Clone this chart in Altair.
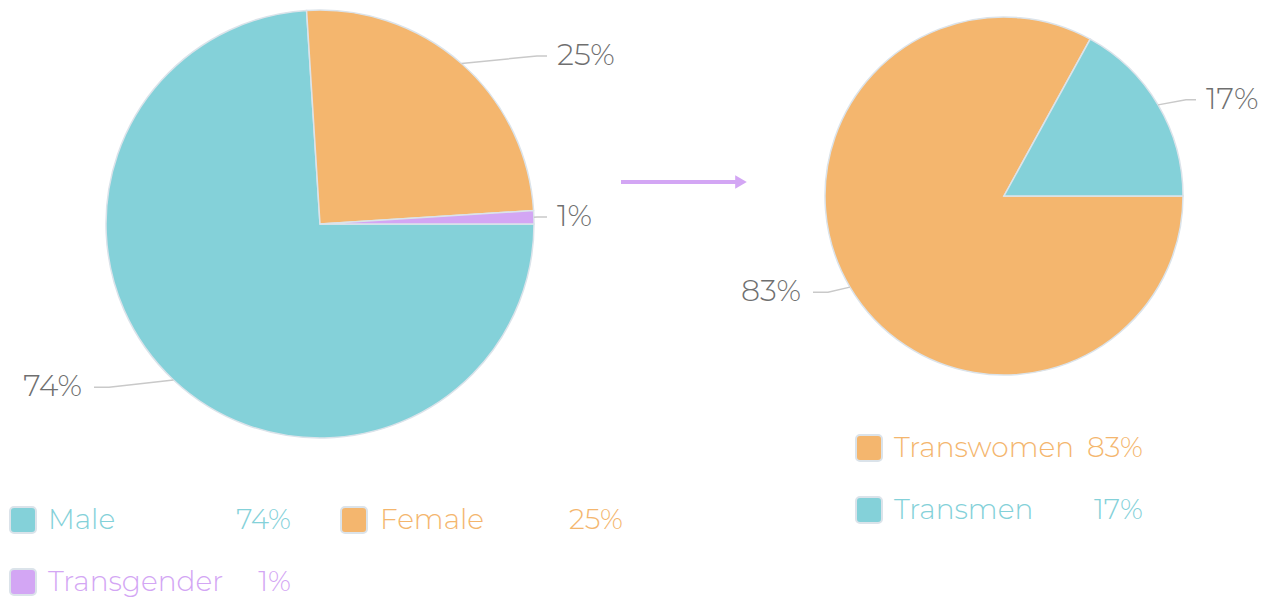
import math
import altair as alt
import pandas as pd

# ---------------- data ----------------
left_categories = ["Male", "Female", "Transgender"]
left_values = [74, 25, 1]
right_categories = ["Transwomen", "Transmen"]
right_values = [83, 17]

all_categories = ["Male", "Female", "Transgender", "Transwomen", "Transmen"]
category_colors = ["#84D1D9", "#F4B66E", "#D3A6F4", "#F4B66E", "#84D1D9"]

# ---------------- layout (page pixels) ----------------
OFF = 8  # page margin
LEFT_PIE = dict(cx=320, cy=224, r=214)
RIGHT_PIE = dict(cx=1004, cy=196, r=179)
START_DEG = 90
FONT = "Montserrat, DejaVu Sans, sans-serif"
LABEL_SIZE = 30
LEGEND_SIZE = 28
LABEL_GRAY = "#6f6f6f"
LINE_GRAY = "#c9c9c9"
BORDER = "#dbe3ea"

color_scale = alt.Scale(domain=all_categories, range=category_colors)


def pie_frames(cats, vals, pie):
    total = float(sum(vals))
    cum = 0.0
    arcs, lines, labels = [], [], []
    for i, (c, v) in enumerate(zip(cats, vals)):
        a0 = START_DEG + cum / total * 360
        cum += v
        a1 = START_DEG + cum / total * 360
        m = math.radians((a0 + a1) / 2)
        s, co = math.sin(m), math.cos(m)
        ex = pie["cx"] + pie["r"] * s
        ey = pie["cy"] - pie["r"] * co
        ely = pie["cy"] - (pie["r"] + 10) * co
        if s >= 0:
            elx = pie["cx"] + pie["r"] + 3
            endx = elx + 10
            tx = endx + 10
            side = "right"
        else:
            elx = pie["cx"] - pie["r"] + 3
            endx = elx - 15
            tx = endx - 12
            side = "left"
        arcs.append(dict(cat=c, val=v, idx=i))
        for k, (px, py) in enumerate([(ex, ey), (elx, ely), (endx, ely)]):
            lines.append(dict(cat=c, k=k, x=px - OFF, y=py - OFF))
        labels.append(dict(cat=c, text=f"{v}%", x=tx - OFF, y=ely - OFF, side=side))
    return pd.DataFrame(arcs), pd.DataFrame(lines), pd.DataFrame(labels)


def pie_layers(cats, vals, pie):
    arcs, lines, labels = pie_frames(cats, vals, pie)
    arc = alt.Chart(arcs).mark_arc(outerRadius=pie["r"], stroke=BORDER, strokeWidth=1.5).encode(
        theta=alt.Theta("val:Q", stack=True,
                        scale=alt.Scale(range=[math.radians(START_DEG), math.radians(START_DEG) + 2 * math.pi])),
        color=alt.Color("cat:N", scale=color_scale, legend=None),
        order=alt.Order("idx:Q"),
        x=alt.value(pie["cx"] - OFF),
        y=alt.value(pie["cy"] - OFF),
    )
    line = alt.Chart(lines).mark_line(color=LINE_GRAY, strokeWidth=1.5).encode(
        x=alt.X("x:Q", scale=None, axis=None),
        y=alt.Y("y:Q", scale=None, axis=None),
        detail="cat:N",
        order="k:Q",
    )
    out = [arc, line]
    for side in ["left", "right"]:
        sub = labels[labels.side == side]
        if len(sub) == 0:
            continue
        out.append(alt.Chart(sub).mark_text(
            font=FONT, fontSize=LABEL_SIZE, fontWeight=300, color=LABEL_GRAY,
            align="left" if side == "right" else "right", baseline="middle",
        ).encode(
            x=alt.X("x:Q", scale=None, axis=None),
            y=alt.Y("y:Q", scale=None, axis=None),
            text="text:N",
        ))
    return out


# legends
def legend_frame(cats, vals, slots):
    rows = []
    for c, v, (sx, tx, px, cy) in zip(cats, vals, slots):
        rows.append(dict(cat=c, pct=f"{v}%", x0=sx - OFF, x1=sx + 26 - OFF,
                         y0=cy - 13 - OFF, y1=cy + 13 - OFF,
                         tx=tx - OFF, px=px - OFF, ty=cy + 1 - OFF))
    return pd.DataFrame(rows)


# slot = (square left x, text x, pct right x, center y)
left_slots = [(10, 48, 291, 520), (341, 380, 623, 520), (10, 48, 291, 582)]
right_slots = [(856, 894, 1143, 448), (856, 894, 1143, 510)]
leg = pd.concat([legend_frame(left_categories, left_values, left_slots),
                 legend_frame(right_categories, right_values, right_slots)])

leg_rect = alt.Chart(leg).mark_rect(cornerRadius=4, stroke=BORDER, strokeWidth=2).encode(
    x=alt.X("x0:Q", scale=None, axis=None), x2="x1:Q",
    y=alt.Y("y0:Q", scale=None, axis=None), y2="y1:Q",
    color=alt.Color("cat:N", scale=color_scale, legend=None),
)
leg_name = alt.Chart(leg).mark_text(font=FONT, fontSize=LEGEND_SIZE, fontWeight=300,
                                    align="left", baseline="middle").encode(
    x=alt.X("tx:Q", scale=None, axis=None), y=alt.Y("ty:Q", scale=None, axis=None),
    text="cat:N", color=alt.Color("cat:N", scale=color_scale, legend=None),
)
leg_pct = alt.Chart(leg).mark_text(font=FONT, fontSize=LEGEND_SIZE, fontWeight=300,
                                   align="right", baseline="middle").encode(
    x=alt.X("px:Q", scale=None, axis=None), y=alt.Y("ty:Q", scale=None, axis=None),
    text="pct:N", color=alt.Color("cat:N", scale=color_scale, legend=None),
)

# arrow decoration
arrow_df = pd.DataFrame([dict(a=1)])
arrow_line = alt.Chart(arrow_df).mark_rule(color="#D3A6F4", strokeWidth=4).encode(
    x=alt.value(621 - OFF), x2=alt.value(739 - OFF), y=alt.value(182 - OFF))
arrow_head = alt.Chart(arrow_df).mark_point(shape="triangle-right", filled=True, opacity=1,
                                            color="#D3A6F4", size=180).encode(
    x=alt.value(741 - OFF), y=alt.value(182 - OFF))

layers = (pie_layers(left_categories, left_values, LEFT_PIE)
          + pie_layers(right_categories, right_values, RIGHT_PIE)
          + [leg_rect, leg_name, leg_pct, arrow_line, arrow_head])

chart = alt.layer(*layers).resolve_scale(theta="independent").properties(
    width=1256, height=591, padding=0,
    autosize=alt.AutoSizeParams(type="none"),
).configure_view(stroke=None)

chart.save("out.html", embed_options={"renderer": "svg", "actions": False})
